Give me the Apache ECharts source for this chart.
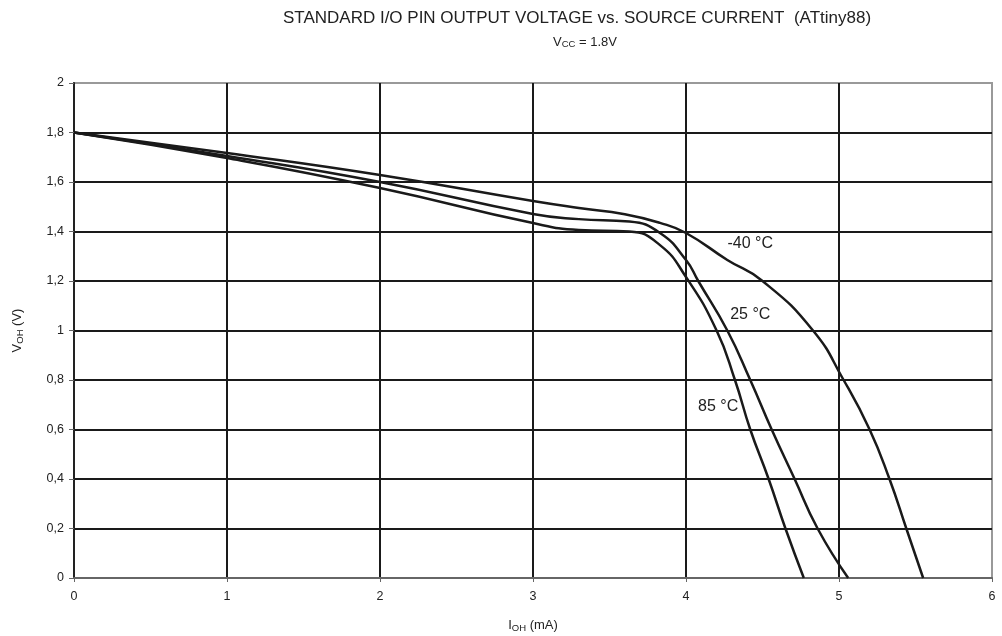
<!DOCTYPE html>
<html>
<head>
<meta charset="utf-8">
<script src="https://cdn.jsdelivr.net/npm/echarts@6/dist/echarts.min.js"></script>
<style>
  html, body { margin: 0; padding: 0; background: #fff; }
  #main { width: 1002px; height: 636px; }
</style>
</head>
<body>
<div id="main"></div>
<script>
// curves: [I_OH (mA), V_OH (V)]
var curveMinus40 = [[0,1.8],[1,1.717],[2,1.628],[3,1.523],[3.3,1.495],[3.6,1.47],[3.83,1.435],[4,1.394],[4.27,1.285],[4.5,1.2],[4.83,1.0],[5.03,0.8],[5.2,0.6],[5.33,0.4],[5.44,0.2],[5.55,0]];
var curve25 = [[0,1.8],[1,1.705],[2,1.60],[3,1.471],[3.3,1.45],[3.63,1.44],[3.83,1.394],[4,1.285],[4.08,1.2],[4.27,1.0],[4.42,0.8],[4.56,0.6],[4.71,0.4],[4.86,0.2],[5.06,0]];
var curve85 = [[0,1.8],[1,1.697],[2,1.576],[3,1.434],[3.3,1.406],[3.63,1.40],[3.83,1.345],[4,1.216],[4.2,1.0],[4.32,0.8],[4.42,0.6],[4.54,0.4],[4.65,0.2],[4.77,0]];

var seriesNames = ['-40 °C', '25 °C', '85 °C'];
// where each temperature label sits, in data coordinates
var labelPos = [[4.42,1.353],[4.42,1.063],[4.21,0.691]];

var xTickLabels = ['0','1','2','3','4','5','6'];
var yTickLabels = ['0','0,2','0,4','0,6','0,8','1','1,2','1,4','1,6','1,8','2'];

var chart = echarts.init(document.getElementById('main'));
var font = 'Liberation Sans, Arial, sans-serif';

function makeSeries(name, data, pos) {
  return {
    name: name,
    type: 'line',
    data: data,
    smooth: 0.5,
    symbol: 'none',
    lineStyle: { color: '#1a1a1a', width: 2.5 },
    z: 5,
    markPoint: {
      symbol: 'circle',
      symbolSize: 0,
      label: {
        show: true,
        formatter: name,
        color: '#222',
        fontFamily: font,
        fontSize: 16,
        position: 'inside'
      },
      data: [{ coord: pos }]
    }
  };
}

var subRich = {
  n: { fontFamily: font, fontSize: 13, fontWeight: 'normal', color: '#222' },
  s: { fontFamily: font, fontSize: 9.5, fontWeight: 'normal', color: '#222', verticalAlign: 'bottom', padding: [5,0,0,0] }
};

chart.setOption({
  backgroundColor: '#fff',
  animation: false,
  title: [{
    text: 'STANDARD I/O PIN OUTPUT VOLTAGE vs. SOURCE CURRENT  (ATtiny88)',
    left: 572, top: 5, textAlign: 'center',
    textStyle: { fontFamily: font, fontSize: 17, fontWeight: 'normal', color: '#222' }
  }, {
    text: '{n|V}{s|CC}{n| = 1.8V}',
    left: 580, top: 30, textAlign: 'center',
    textStyle: {
      fontWeight: 'normal',
      rich: {
        n: { fontFamily: font, fontSize: 13, fontWeight: 'normal', color: '#222' },
        s: { fontFamily: font, fontSize: 9.5, fontWeight: 'normal', color: '#222', verticalAlign: 'bottom', padding: [4,0,0,0] }
      }
    }
  }],
  grid: {
    left: 74, right: 10, top: 83, bottom: 58,
    outerBoundsMode: 'none',
    show: true, borderColor: '#999', borderWidth: 2
  },
  xAxis: {
    type: 'value', min: 0, max: 6, interval: 1,
    name: '{n|I}{s|OH}{n| (mA)}',
    nameLocation: 'middle', nameGap: 40,
    nameTextStyle: { rich: subRich },
    axisLine: { lineStyle: { color: '#666', width: 2 } },
    axisTick: { show: true, length: 4, lineStyle: { color: '#666' } },
    axisLabel: {
      margin: 12, color: '#222', fontFamily: font, fontSize: 12.5,
      formatter: function (v) { return xTickLabels[Math.round(v)]; }
    },
    splitLine: { show: true, showMinLine: false, showMaxLine: false, lineStyle: { color: '#1a1a1a', width: 2 } }
  },
  yAxis: {
    type: 'value', min: 0, max: 2, interval: 0.2,
    name: '{n|V}{s|OH}{n| (V)}',
    nameLocation: 'middle', nameGap: 49, nameRotate: 90,
    nameTextStyle: { rich: subRich },
    axisLine: { show: true, lineStyle: { color: '#222', width: 2 } },
    axisTick: { show: true, length: 5, lineStyle: { color: '#666' } },
    axisLabel: {
      margin: 10, color: '#222', fontFamily: font, fontSize: 12.5,
      formatter: function (v) { return yTickLabels[Math.round(v * 5)]; }
    },
    splitLine: { show: true, showMinLine: false, showMaxLine: false, lineStyle: { color: '#1a1a1a', width: 2 } }
  },
  series: [
    makeSeries(seriesNames[0], curveMinus40, labelPos[0]),
    makeSeries(seriesNames[1], curve25, labelPos[1]),
    makeSeries(seriesNames[2], curve85, labelPos[2])
  ]
});
</script>
</body>
</html>
